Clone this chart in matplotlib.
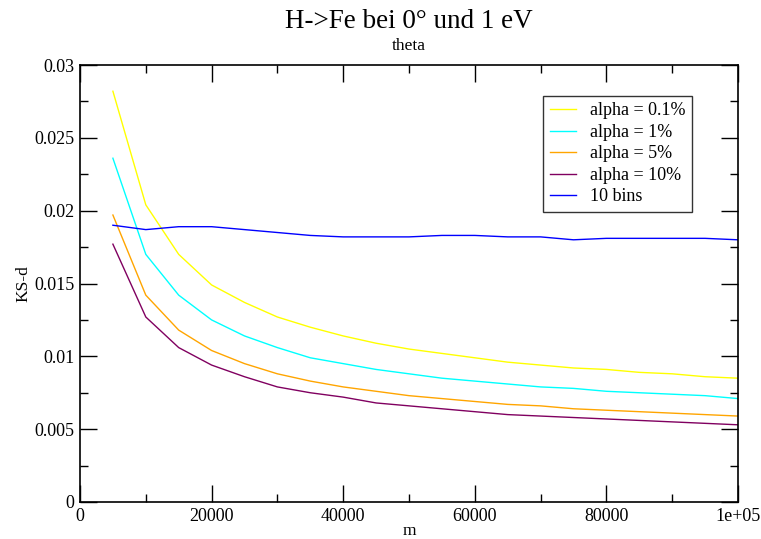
import matplotlib
matplotlib.use("Agg")
import matplotlib.pyplot as plt
from matplotlib.ticker import MultipleLocator, FixedLocator

m = [5000, 10000, 15000, 20000, 25000, 30000, 35000, 40000, 45000, 50000,
     55000, 60000, 65000, 70000, 75000, 80000, 85000, 90000, 95000, 100000]

alpha_01 = [0.0282, 0.0204, 0.0170, 0.0149, 0.0137, 0.0127, 0.0120, 0.0114, 0.0109, 0.0105,
            0.0102, 0.0099, 0.0096, 0.0094, 0.0092, 0.0091, 0.0089, 0.0088, 0.0086, 0.0085]
alpha_1 = [0.0236, 0.0170, 0.0142, 0.0125, 0.0114, 0.0106, 0.0099, 0.0095, 0.0091, 0.0088,
           0.0085, 0.0083, 0.0081, 0.0079, 0.0078, 0.0076, 0.0075, 0.0074, 0.0073, 0.0071]
alpha_5 = [0.0197, 0.0142, 0.0118, 0.0104, 0.0095, 0.0088, 0.0083, 0.0079, 0.0076, 0.0073,
           0.0071, 0.0069, 0.0067, 0.0066, 0.0064, 0.0063, 0.0062, 0.0061, 0.0060, 0.0059]
alpha_10 = [0.0177, 0.0127, 0.0106, 0.0094, 0.0086, 0.0079, 0.0075, 0.0072, 0.0068, 0.0066,
            0.0064, 0.0062, 0.0060, 0.0059, 0.0058, 0.0057, 0.0056, 0.0055, 0.0054, 0.0053]
bins10 = [0.0190, 0.0187, 0.0189, 0.0189, 0.0187, 0.0185, 0.0183, 0.0182, 0.0182, 0.0182,
          0.0183, 0.0183, 0.0182, 0.0182, 0.0180, 0.0181, 0.0181, 0.0181, 0.0181, 0.0180]

series = [
    ("alpha = 0.1%", alpha_01, "#ffff00"),
    ("alpha = 1%", alpha_1, "#00ffff"),
    ("alpha = 5%", alpha_5, "#ffa500"),
    ("alpha = 10%", alpha_10, "#800060"),
    ("10 bins", bins10, "#0000ff"),
]

x_ticks = [0, 20000, 40000, 60000, 80000, 100000]
x_labels = ["0", "20000", "40000", "60000", "80000", "1e+05"]
y_ticks = [0, 0.005, 0.01, 0.015, 0.02, 0.025, 0.03]
y_labels = ["0", "0.005", "0.01", "0.015", "0.02", "0.025", "0.03"]

plt.rcParams['font.family'] = ['Liberation Serif', 'DejaVu Serif']

fig = plt.figure(figsize=(7.61, 5.39), dpi=100)
ax = fig.add_axes([80/761, 37/539, 658/761, 437/539])

for label, vals, col in series:
    ax.plot(m, vals, color=col, lw=1.0, label=label)

ax.set_xlim(0, 100000)
ax.set_ylim(0, 0.03)
ax.xaxis.set_major_locator(FixedLocator(x_ticks))
ax.set_xticklabels(x_labels)
ax.xaxis.set_minor_locator(MultipleLocator(10000))
ax.yaxis.set_major_locator(FixedLocator(y_ticks))
ax.set_yticklabels(y_labels)
ax.yaxis.set_minor_locator(MultipleLocator(0.0025))

ax.tick_params(which='both', direction='in', top=True, right=True, labelsize=13, width=1.0, pad=4)
ax.tick_params(which='major', length=12)
ax.tick_params(which='minor', length=6)
for s in ax.spines.values():
    s.set_linewidth(1.2)

ax.set_xlabel("m", fontsize=12.5)
ax.set_ylabel("KS-d", fontsize=12.5)
ax.xaxis.label.set_va('baseline')
ax.xaxis.set_label_coords(0.5, -(535 - 502) / 437)
ax.yaxis.set_label_coords(-(80 - 31) / 658, 0.5)
fig.text(0.5 * (80 + 738) / 761, 1 - 21/539, "H->Fe bei 0° und 1 eV", ha='center', va='center', fontsize=19.5)
fig.text(0.5 * (80 + 738) / 761, 1 - 46/539, "theta", ha='center', va='center', fontsize=12.5)

leg = ax.legend(loc='upper right', bbox_to_anchor=(692/761, (539-96)/539), bbox_transform=fig.transFigure,
                fontsize=13, frameon=True, fancybox=False, handlelength=1.45,
                borderpad=0.35, labelspacing=0.25, handletextpad=0.8, borderaxespad=0)
leg.get_frame().set_edgecolor('black')
leg.get_frame().set_linewidth(1.0)

fig.savefig("out.png", dpi=100)
